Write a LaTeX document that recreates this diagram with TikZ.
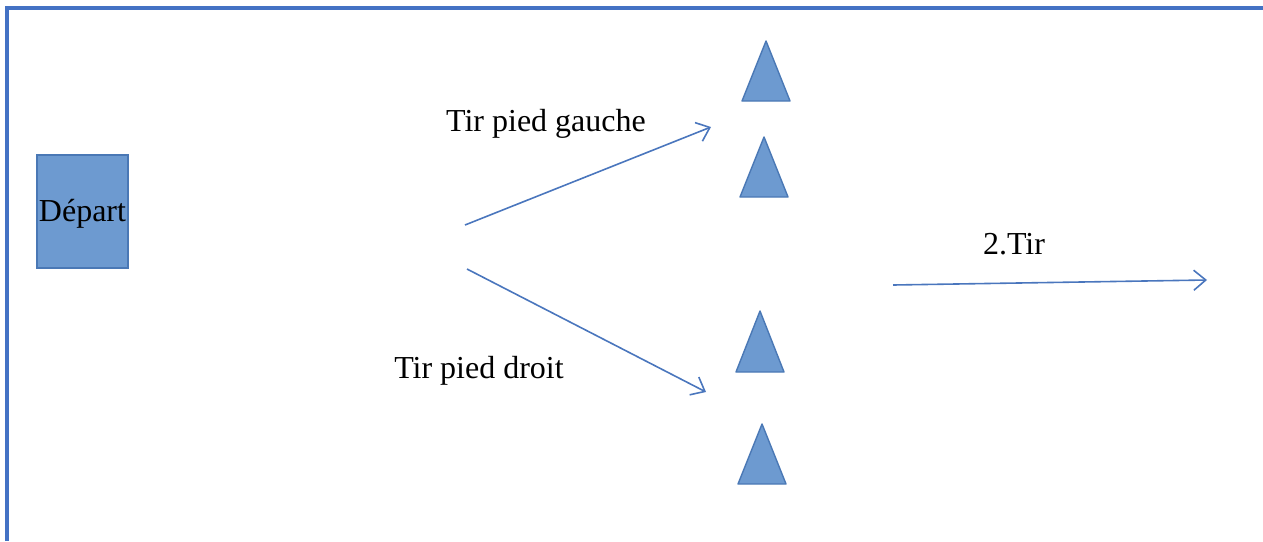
\documentclass[tikz,border=0pt]{standalone}
\usepackage{fontspec}
\setmainfont{Liberation Serif}
\usetikzlibrary{arrows.meta}
\definecolor{frameblue}{HTML}{4472C4}
\definecolor{shapefill}{HTML}{6D9AD0}
\definecolor{shapeline}{HTML}{4A78B5}
\definecolor{arrowblue}{HTML}{4A76BD}
\tikzset{
  lbl/.style={font=\fontsize{16pt}{19pt}\selectfont, inner sep=0pt, text=black},
  startbox/.style={draw=shapeline, fill=shapefill, line width=0.7pt, minimum width=45.5pt, minimum height=56.5pt, inner sep=0pt},
  cone/.style={draw=shapeline, fill=shapefill, line width=0.7pt, line join=round},
  move/.style={draw=arrowblue, line width=0.8pt, -{Straight Barb[length=6pt,width=10pt,line width=0.8pt]}},
  frame/.style={draw=frameblue, line width=1.6pt}
}
\begin{document}
\begin{tikzpicture}[x=0.5pt,y=-0.5pt]
\useasboundingbox (0,0) rectangle (1263,541);
% frame (top and left edges)
\draw[frame] (7,541) -- (7,8) -- (1263,8);
% start box
\node[startbox] (depart) at (82.5,211.5) {};
\node[lbl] (departlbl) at (82.5,214) {Départ};
% triangles (cones)
\draw[cone] (766,41) -- (790,101) -- (742,101) -- cycle;
\draw[cone] (764,137) -- (788,197) -- (740,197) -- cycle;
\draw[cone] (760,311) -- (784,372) -- (736,372) -- cycle;
\draw[cone] (762,424) -- (786,484) -- (738,484) -- cycle;
% arrow coordinates
\coordinate (a1s) at (465,225);
\coordinate (a1e) at (711,127);
\coordinate (a2s) at (467,269);
\coordinate (a2e) at (706,392);
\coordinate (a3s) at (893,285);
\coordinate (a3e) at (1207,280);
\draw[move] (a1s) -- (a1e);
\draw[move] (a2s) -- (a2e);
\draw[move] (a3s) -- (a3e);
% labels
\node[lbl] (gauche) at (546,123.5) {Tir pied gauche};
\node[lbl] (droit) at (479,370.5) {Tir pied droit};
\node[lbl] (tir2) at (1014,244.5) {2.Tir};
\end{tikzpicture}
\end{document}
